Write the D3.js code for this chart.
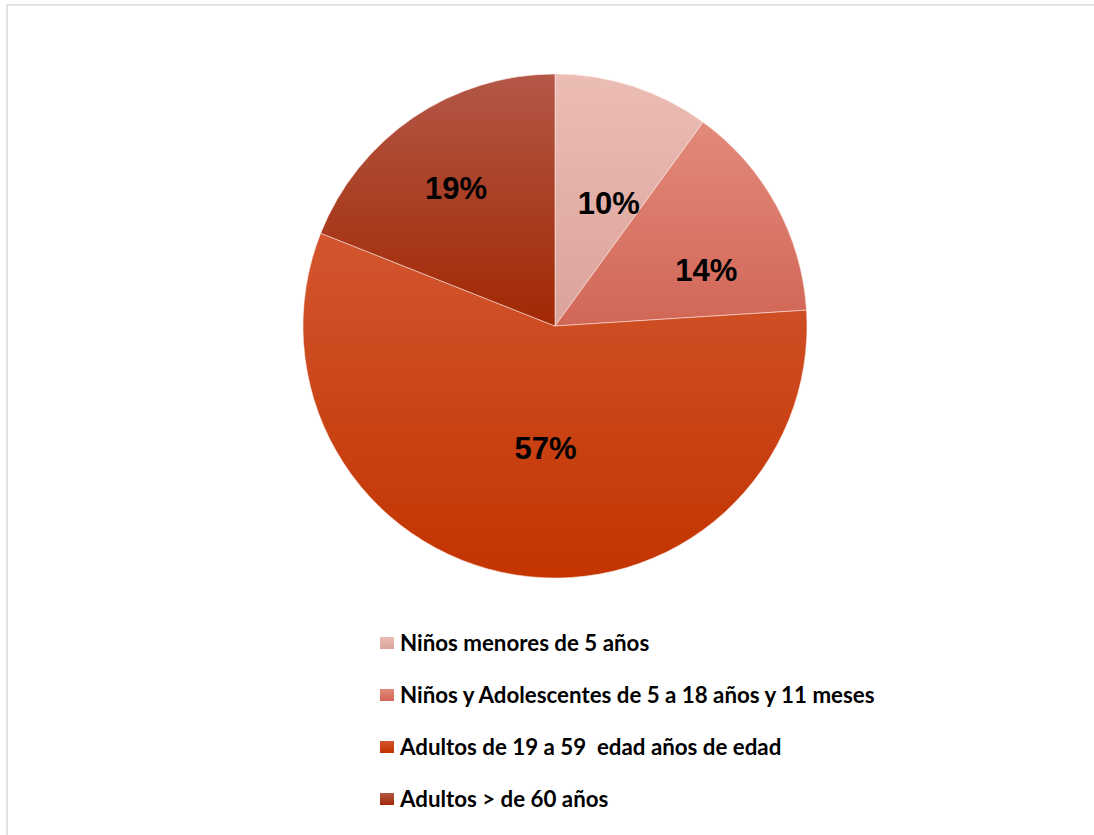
<!DOCTYPE html>
<html>
<head>
<meta charset="utf-8">
<script src="https://cdn.jsdelivr.net/npm/d3@7"></script>
<style>
  html, body { margin: 0; padding: 0; background: #fff; }
  svg { display: block; }
</style>
</head>
<body>
<svg id="chart" width="1094" height="835"></svg>
<script>
// Age groups and their share of the total (percent)
const categories = [
  "Niños menores de 5 años",
  "Niños y Adolescentes de 5 a 18 años y 11 meses",
  "Adultos de 19 a 59  edad años de edad",
  "Adultos > de 60 años"
];
const values = [10, 14, 57, 19];
const labels = ["10%", "14%", "57%", "19%"];

// Top / bottom colour of each slice's vertical gradient
const topColors = ["#ecbdb5", "#e28a7b", "#d2552f", "#b35747"];
const bottomColors = ["#daa39b", "#d16656", "#c33400", "#a12803"];

const svg = d3.select("#chart");
const W = 1094, H = 835;

// Light frame around the chart area
svg.append("rect")
  .attr("x", 7).attr("y", 5)
  .attr("width", W).attr("height", H)
  .attr("fill", "#fff")
  .attr("stroke", "#e3e3e3")
  .attr("stroke-width", 2);

const defs = svg.append("defs");
categories.forEach((c, i) => {
  const g = defs.append("linearGradient")
    .attr("id", "grad" + i)
    .attr("x1", 0).attr("y1", 0).attr("x2", 0).attr("y2", 1);
  g.append("stop").attr("offset", "0%").attr("stop-color", topColors[i]);
  g.append("stop").attr("offset", "100%").attr("stop-color", bottomColors[i]);
});

const cx = 555, cy = 326, radius = 252;

const pie = d3.pie().sort(null).value(d => d)
  .startAngle(0).endAngle(2 * Math.PI);
const arcs = pie(values);
const arc = d3.arc().innerRadius(0).outerRadius(radius);

const g = svg.append("g").attr("transform", `translate(${cx},${cy})`);

g.selectAll("path.slice")
  .data(arcs)
  .join("path")
  .attr("class", "slice")
  .attr("d", arc)
  .attr("fill", (d, i) => `url(#grad${i})`)
  .attr("stroke", "rgba(255,235,230,0.55)")
  .attr("stroke-width", 1);

// Label placement: radius fraction and angular shift (radians) per slice
const labelRadius = [0.53, 0.64, 0.49, 0.67];
const labelShift = [0.10, 0.15, -0.08, -0.03];

g.selectAll("text.pct")
  .data(arcs)
  .join("text")
  .attr("class", "pct")
  .attr("transform", (d, i) => {
    const a = (d.startAngle + d.endAngle) / 2 + labelShift[i];
    const r = radius * labelRadius[i];
    return `translate(${r * Math.sin(a)},${-r * Math.cos(a)})`;
  })
  .attr("text-anchor", "middle")
  .attr("dy", "0.33em")
  .attr("font-family", "'Liberation Sans', Arial, sans-serif")
  .attr("font-weight", "bold")
  .attr("font-size", 31)
  .attr("fill", "#000")
  .text((d, i) => labels[i]);

// Legend
const legend = svg.append("g").attr("transform", "translate(380,643)");
const rowGap = 52;
const rows = legend.selectAll("g.row")
  .data(categories)
  .join("g")
  .attr("class", "row")
  .attr("transform", (d, i) => `translate(0,${i * rowGap})`);

rows.append("rect")
  .attr("x", 0).attr("y", -6)
  .attr("width", 14).attr("height", 12)
  .attr("fill", (d, i) => `url(#grad${i})`);

rows.append("text")
  .attr("x", 20)
  .attr("dy", "0.35em")
  .attr("font-family", "Lato, 'Open Sans', sans-serif")
  .attr("font-weight", "bold")
  .attr("font-size", 22.3)
  .attr("fill", "#000")
  .style("white-space", "pre")
  .text(d => d);
</script>
</body>
</html>
